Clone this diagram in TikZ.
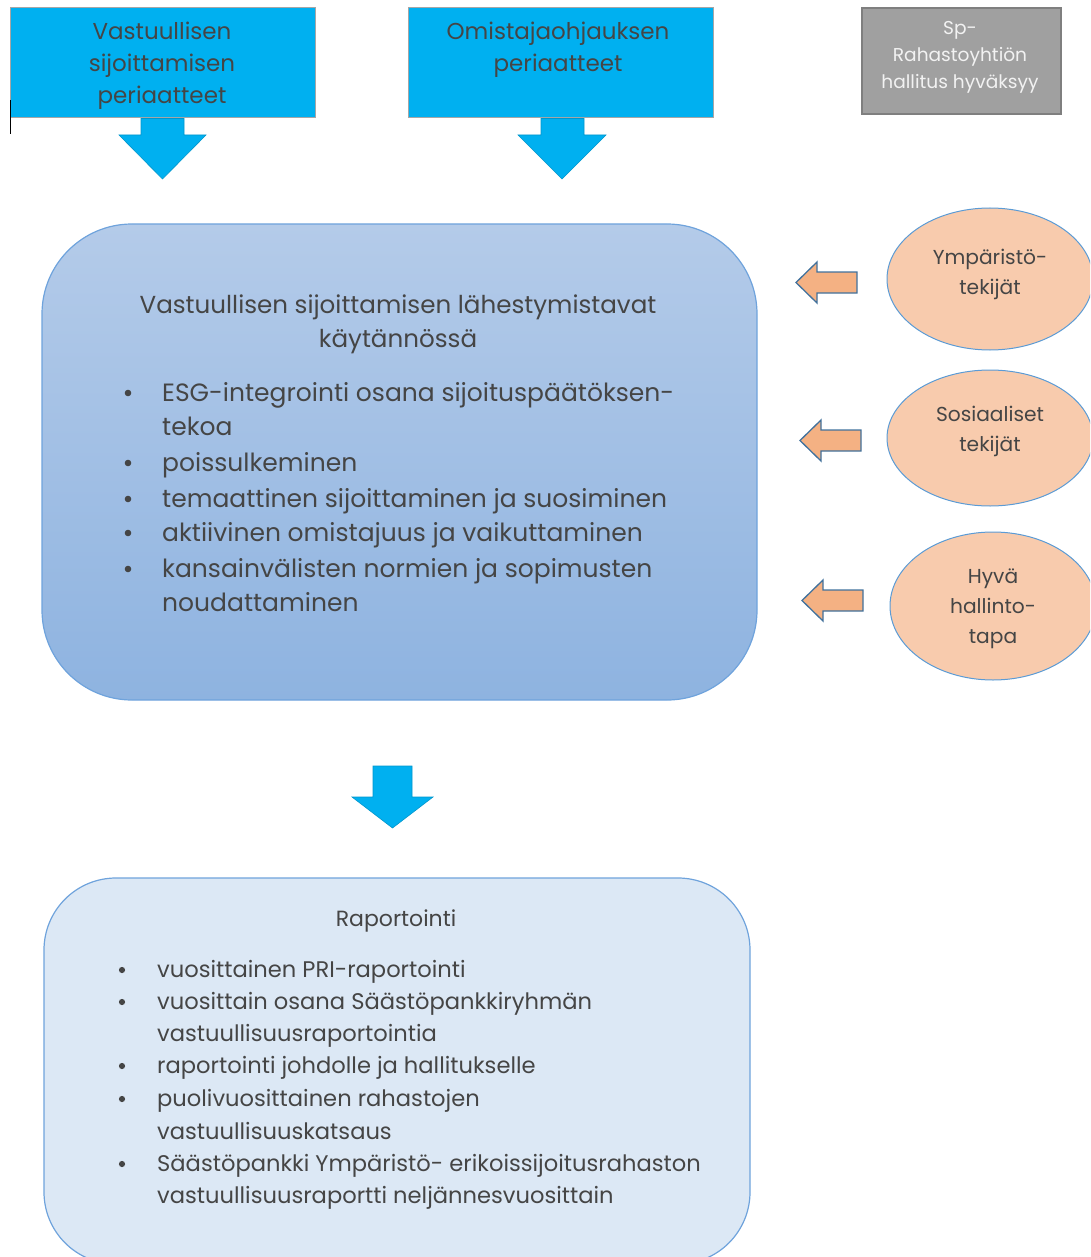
\documentclass[tikz,border=0pt]{standalone}
\usepackage{fontspec}
\setmainfont{Poppins}
\usetikzlibrary{shapes.geometric}
\definecolor{txt}{HTML}{454545}
\definecolor{skyblue}{HTML}{00B0F0}
\definecolor{boxedge}{HTML}{A6A6A6}
\definecolor{grayfill}{HTML}{A0A0A0}
\definecolor{grayedge}{HTML}{7F7F7F}
\definecolor{maintop}{HTML}{B4CBE9}
\definecolor{mainbot}{HTML}{8EB3E0}
\definecolor{mainedge}{HTML}{6FA3DC}
\definecolor{repfill}{HTML}{DCE8F5}
\definecolor{peach}{HTML}{F8CBAD}
\definecolor{peachedge}{HTML}{5B9BD5}
\definecolor{orangearrow}{HTML}{F4B183}
\definecolor{orangeedge}{HTML}{41719C}
\tikzset{
  bluebox/.style={draw=boxedge, line width=1pt, fill=skyblue, inner sep=0pt},
  graybox/.style={draw=grayedge, line width=1.2pt, fill=grayfill, inner sep=0pt},
  boxtext/.style={text=txt, align=center, font=\fontsize{23}{32}\selectfont, yshift=-3pt},
  graytext/.style={text=white!95!black, align=center, font=\fontsize{18.6}{27}\selectfont},
  bluearrow/.style={fill=skyblue, draw=skyblue!85!black, line width=0.6pt},
  orarrow/.style={fill=orangearrow, draw=orangeedge, line width=1.3pt},
  factor/.style={ellipse, draw=peachedge, line width=1pt, fill=peach, inner sep=0pt,
     minimum width=206pt, minimum height=142pt},
  factortext/.style={text=txt, align=center, font=\fontsize{20.2}{30}\selectfont, yshift=-3pt},
  mainline/.style={text=txt, anchor=mid west, inner sep=0pt, font=\fontsize{25}{30}\selectfont, yshift=-7pt},
  repline/.style={text=txt, anchor=mid west, inner sep=0pt, font=\fontsize{22.6}{30}\selectfont, yshift=-6pt},
  dot/.style={fill=txt}
}
\begin{document}
\begin{tikzpicture}[x=1pt,y=-1pt]
\useasboundingbox (0,0) rectangle (1090,1257);
\clip (0,0) rectangle (1090,1257);

% top boxes
\node[bluebox, minimum width=305pt, minimum height=110pt] (vsp) at (162.5,63) {};
\node[boxtext] (vsptext) at (162,63) {Vastuullisen\\sijoittamisen\\periaatteet};
\node[bluebox, minimum width=305pt, minimum height=110pt] (omp) at (560.5,63) {};
\node[boxtext] (omptext) at (558,47) {Omistajaohjauksen\\periaatteet};
\node[graybox, minimum width=199pt, minimum height=106pt] (hall) at (961.5,61) {};
\node[graytext] (halltext) at (960,57) {Sp-\\Rahastoyhtiön\\hallitus hyväksyy};
\draw[black, line width=1pt] (10,100) -- (10,134);

% arrows under top boxes
\draw[bluearrow] (vsp.south -| 141,0) -- (141,135) -- (119,135) -- (162.5,179) -- (206,135) -- (184,135) -- (vsp.south -| 184,0) -- cycle;
\draw[bluearrow] (omp.south -| 541,0) -- (541,135) -- (518,135) -- (562,179) -- (606,135) -- (584,135) -- (omp.south -| 584,0) -- cycle;

% main box
\node[draw=mainedge, line width=1.2pt, top color=maintop, bottom color=mainbot,
      rounded corners=90pt, minimum width=715pt, minimum height=476pt, inner sep=0pt] (main) at (399.5,462) {};
\node[text=txt, align=center, font=\fontsize{24.6}{34}\selectfont, yshift=-3pt] (maintitle) at (398,321)
  {Vastuullisen sijoittamisen lähestymistavat\\käytännössä};
\foreach \y in {392,462,498,532,568} \fill[dot] (128,\y+1) circle (3.3pt);
\node[mainline] (m1) at (162,392) {ESG-integrointi osana sijoituspäätöksen-};
\node[mainline] (m2) at (162,426) {tekoa};
\node[mainline] (m3) at (162,462) {poissulkeminen};
\node[mainline] (m4) at (162,498) {temaattinen sijoittaminen ja suosiminen};
\node[mainline] (m5) at (162,532) {aktiivinen omistajuus ja vaikuttaminen};
\node[mainline] (m6) at (162,568) {kansainvälisten normien ja sopimusten};
\node[mainline] (m7) at (162,602) {noudattaminen};

% factor ellipses
\node[factor] (env) at (990,279) {};
\node[factortext] (envtext) at (990,271) {Ympäristö-\\tekijät};
\node[factor, minimum height=136pt] (soc) at (990,438) {};
\node[factortext] (soctext) at (990,428) {Sosiaaliset\\tekijät};
\node[factor, minimum height=148pt] (gov) at (993,606) {};
\node[factortext] (govtext) at (993,606) {Hyvä\\hallinto-\\tapa};

% orange arrows
\draw[orarrow] (857,272) -- (817,272) -- (817,262) -- (796,282.5) -- (817,303) -- (817,293) -- (857,293) -- cycle;
\draw[orarrow] (861,430) -- (821,430) -- (821,420) -- (800,440.5) -- (821,461) -- (821,451) -- (861,451) -- cycle;
\draw[orarrow] (863,590) -- (823,590) -- (823,580) -- (802,600.5) -- (823,621) -- (823,611) -- (863,611) -- cycle;

% middle down arrow
\draw[bluearrow] (373,766) -- (373,797) -- (352,797) -- (392.5,828) -- (433,797) -- (412,797) -- (412,766) -- cycle;

% reporting box
\node[draw=mainedge, line width=1.2pt, fill=repfill, rounded corners=72pt,
      minimum width=706pt, minimum height=386pt, inner sep=0pt] (rep) at (397,1071) {};
\node[text=txt, font=\fontsize{22}{30}\selectfont, yshift=-3pt] (reptitle) at (396,918) {Raportointi};
\foreach \y in {969,1001,1065,1098,1163} \fill[dot] (122,\y+1) circle (3.1pt);
\node[repline] (r1) at (157,969) {vuosittainen PRI-raportointi};
\node[repline] (r2) at (157,1001) {vuosittain osana Säästöpankkiryhmän};
\node[repline] (r3) at (157,1033) {vastuullisuusraportointia};
\node[repline] (r4) at (157,1065) {raportointi johdolle ja hallitukselle};
\node[repline] (r5) at (157,1098) {puolivuosittainen rahastojen};
\node[repline] (r6) at (157,1131) {vastuullisuuskatsaus};
\node[repline] (r7) at (157,1163) {Säästöpankki Ympäristö- erikoissijoitusrahaston};
\node[repline] (r8) at (157,1195) {vastuullisuusraportti neljännesvuosittain};
\end{tikzpicture}
\end{document}
